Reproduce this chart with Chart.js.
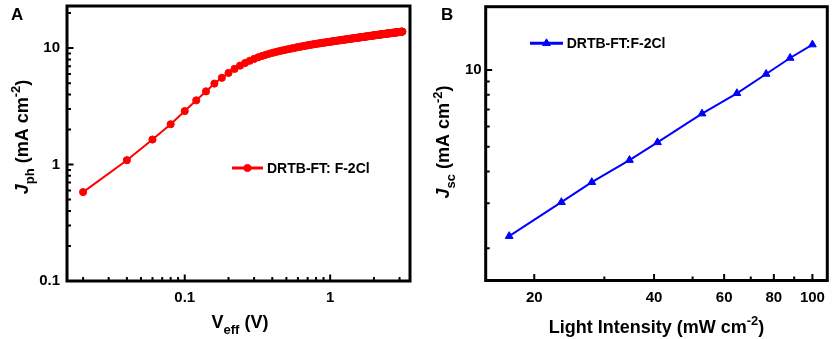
<!DOCTYPE html>
<html lang="en">
<head>
<meta charset="UTF-8">
<title>Jph vs Veff / Jsc vs light intensity</title>
<script src="https://cdn.jsdelivr.net/npm/chart.js"></script>
<style>
  body { margin: 0; background: #fff; }
  #wrap { position: relative; width: 834px; height: 339px; }
  #chartA { position: absolute; left: 0; top: 0; }
  #chartB { position: absolute; left: 420px; top: 0; }
</style>
</head>
<body>
<div id="wrap">
  <canvas id="chartA" width="420" height="339"></canvas>
  <canvas id="chartB" width="414" height="339"></canvas>
</div>
<script>
// ---- panel A data ----
const vEff = [
  0.02,0.04,0.06,0.08,0.10,0.12,0.14,0.16,0.18,0.20,
  0.22,0.24,0.26,0.28,0.30,0.32,0.34,0.36,0.38,0.40,
  0.42,0.44,0.46,0.48,0.50,0.52,0.54,0.56,0.58,0.60,
  0.62,0.64,0.66,0.68,0.70,0.72,0.74,0.76,0.78,0.80,
  0.82,0.84,0.86,0.88,0.90,0.92,0.94,0.96,0.98,1.00,
  1.02,1.04,1.06,1.08,1.10,1.12,1.14,1.16,1.18,1.20,
  1.22,1.24,1.26,1.28,1.30,1.32,1.34,1.36,1.38,1.40,
  1.42,1.44,1.46,1.48,1.50,1.52,1.54,1.56,1.58,1.60,
  1.62,1.64,1.66,1.68,1.70,1.72,1.74,1.76,1.78,1.80,
  1.82,1.84,1.86,1.88,1.90,1.92,1.94,1.96,1.98,2.00,
  2.02,2.04,2.06,2.08,2.10,2.12,2.14,2.16,2.18,2.20,
  2.22,2.24,2.26,2.28,2.30,2.32,2.34,2.36,2.38,2.40,
  2.42,2.44,2.46,2.48,2.50,2.52,2.54,2.56,2.58,2.60,
  2.62,2.64,2.66,2.68,2.70,2.72,2.74,2.76,2.78,2.80,
  2.82,2.84,2.86,2.88,2.90,2.92,2.94,2.96,2.98,3.00,
  3.02,3.04,3.06,3.08,3.10,3.12,3.14
];
const jph = [
  0.58,1.09,1.64,2.22,2.88,3.56,4.25,4.96,5.56,6.12,
  6.63,7.07,7.45,7.79,8.08,8.34,8.56,8.76,8.94,9.10,
  9.24,9.37,9.49,9.61,9.72,9.82,9.92,10.01,10.10,10.19,
  10.27,10.35,10.43,10.50,10.57,10.64,10.70,10.76,10.82,10.88,
  10.93,10.98,11.03,11.08,11.13,11.18,11.22,11.27,11.31,11.35,
  11.39,11.43,11.47,11.51,11.55,11.59,11.63,11.67,11.70,11.74,
  11.77,11.81,11.84,11.88,11.91,11.94,11.97,12.01,12.04,12.07,
  12.10,12.13,12.16,12.19,12.22,12.25,12.28,12.30,12.33,12.36,
  12.39,12.41,12.44,12.46,12.49,12.52,12.54,12.57,12.59,12.62,
  12.64,12.67,12.69,12.72,12.74,12.76,12.79,12.81,12.84,12.86,
  12.88,12.90,12.93,12.95,12.97,12.99,13.01,13.03,13.05,13.07,
  13.09,13.11,13.13,13.15,13.17,13.19,13.21,13.23,13.25,13.27,
  13.29,13.31,13.32,13.34,13.36,13.38,13.40,13.41,13.43,13.45,
  13.47,13.48,13.50,13.51,13.53,13.55,13.56,13.58,13.59,13.61,
  13.63,13.64,13.66,13.67,13.69,13.70,13.72,13.73,13.75,13.76,
  13.77,13.79,13.80,13.82,13.83,13.84,13.86
];
const vEffTicks = [0.02,0.03,0.04,0.05,0.06,0.07,0.08,0.09,0.1,0.2,0.3,0.4,0.5,0.6,0.7,0.8,0.9,1,2,3];
const vEffLabels = [0.1, 1];
const jphTicks = [0.1,0.2,0.3,0.4,0.5,0.6,0.7,0.8,0.9,1,2,3,4,5,6,7,8,9,10,20];
const jphLabels = [0.1, 1, 10];

// ---- panel B data ----
const intensity = [17.3, 23.4, 27.9, 34.7, 40.8, 52.8, 64.6, 76.5, 87.9, 100];
const jsc = [2.23, 3.03, 3.63, 4.43, 5.20, 6.74, 8.10, 9.64, 11.14, 12.57];
const intensityTicks = [20,30,40,50,60,70,80,90,100];
const intensityLabels = [20,40,60,80,100];
const jscTicks = [2,3,4,5,6,7,8,9,10];
const jscLabels = [10];

const FONT = '"Liberation Sans", Arial, sans-serif';

// draws a title made of pieces: [text, kind] kind = '' | 'i' | 'sub' | 'sup'
function richText(ctx, parts, x, y, size, rotate) {
  ctx.save();
  ctx.translate(x, y);
  if (rotate) ctx.rotate(-Math.PI / 2);
  const fontFor = k => (k === 'i' ? 'italic ' : '') + 'bold ' +
    (k === 'sub' || k === 'sup' ? Math.round(size * 0.72) : size) + 'px ' + FONT;
  let total = 0;
  parts.forEach(([t, k]) => { ctx.font = fontFor(k); total += ctx.measureText(t).width; });
  let cx = -total / 2;
  ctx.textAlign = 'left';
  ctx.textBaseline = 'alphabetic';
  ctx.fillStyle = '#000';
  parts.forEach(([t, k]) => {
    ctx.font = fontFor(k);
    const dy = k === 'sub' ? size * 0.32 : k === 'sup' ? -size * 0.42 : 0;
    ctx.fillText(t, cx, dy);
    cx += ctx.measureText(t).width;
  });
  ctx.restore();
}

function decorPlugin(cfg) {
  return {
    id: 'decor',
    afterDraw(chart) {
      const { ctx, chartArea: a, scales } = chart;
      ctx.save();
      ctx.strokeStyle = '#000';
      ctx.lineWidth = 2;
      ctx.beginPath();
      scales.x.ticks.forEach(t => {
        const px = scales.x.getPixelForValue(t.value);
        const len = cfg.xMajor.includes(t.value) ? 6.5 : 4;
        ctx.moveTo(px, a.bottom);
        ctx.lineTo(px, a.bottom - len);
      });
      scales.y.ticks.forEach(t => {
        const py = scales.y.getPixelForValue(t.value);
        const len = cfg.yMajor.includes(t.value) ? 6.5 : 4;
        ctx.moveTo(a.left, py);
        ctx.lineTo(a.left + len, py);
      });
      ctx.stroke();

      ctx.lineWidth = 3;
      ctx.strokeRect(a.left, a.top, a.right - a.left, a.bottom - a.top);

      // legend
      const ds = chart.data.datasets[0];
      const lg = cfg.legend;
      ctx.strokeStyle = ds.borderColor;
      ctx.fillStyle = ds.backgroundColor;
      ctx.lineWidth = 3;
      ctx.beginPath();
      ctx.moveTo(lg.x0, lg.y);
      ctx.lineTo(lg.x1, lg.y);
      ctx.stroke();
      ctx.lineWidth = 1;
      Chart.helpers.drawPoint(ctx, { pointStyle: ds.pointStyle, radius: ds.pointRadius, rotation: 0, borderWidth: 1 },
        (lg.x0 + lg.x1) / 2, lg.y);
      ctx.fillStyle = '#000';
      ctx.font = 'bold 14px ' + FONT;
      ctx.textBaseline = 'middle';
      ctx.textAlign = 'left';
      ctx.fillText(ds.label, lg.tx, lg.y + 1);

      // panel letter
      ctx.font = 'bold 17px ' + FONT;
      ctx.textBaseline = 'alphabetic';
      ctx.fillText(cfg.letter[0], cfg.letter[1], cfg.letter[2]);
      ctx.restore();

      richText(ctx, cfg.xTitle, cfg.xTitlePos[0], cfg.xTitlePos[1], 18, false);
      richText(ctx, cfg.yTitle, cfg.yTitlePos[0], cfg.yTitlePos[1], 18, true);
    }
  };
}

function makeChart(id, p) {
  const tickFont = { family: FONT, size: 15, weight: 'bold' };
  return new Chart(document.getElementById(id), {
    type: 'scatter',
    data: {
      datasets: [{
        label: p.label,
        data: p.xs.map((v, i) => ({ x: v, y: p.ys[i] })),
        showLine: true,
        borderColor: p.color,
        backgroundColor: p.color,
        borderWidth: 2,
        pointStyle: p.pointStyle,
        pointRadius: p.pointRadius,
        pointBorderWidth: 1
      }]
    },
    options: {
      responsive: false,
      animation: false,
      devicePixelRatio: 1,
      layout: { padding: { left: 0, right: p.padRight, top: p.padTop, bottom: 0 } },
      plugins: { legend: { display: false }, tooltip: { enabled: false } },
      scales: {
        x: {
          type: 'logarithmic',
          min: p.xMin, max: p.xMax, bounds: 'data',
          grid: { display: false, drawTicks: false },
          border: { display: false },
          afterBuildTicks: s => { s.ticks = p.xTicks.map(v => ({ value: v })); },
          afterFit: s => {
            s.height = p.xAxisH;
            s.paddingLeft = s.paddingRight = s.paddingTop = s.paddingBottom = 0;
          },
          ticks: {
            autoSkip: false, maxRotation: 0, minRotation: 0, padding: 8,
            color: '#000', font: tickFont,
            callback: v => p.xLabels.includes(v) ? String(v) : ''
          }
        },
        y: {
          type: 'logarithmic',
          min: p.yMin, max: p.yMax, bounds: 'data',
          grid: { display: false, drawTicks: false },
          border: { display: false },
          afterBuildTicks: s => { s.ticks = p.yTicks.map(v => ({ value: v })); },
          afterFit: s => {
            s.width = p.yAxisW;
            s.paddingLeft = s.paddingRight = s.paddingTop = s.paddingBottom = 0;
          },
          ticks: {
            autoSkip: false, padding: p.yPad,
            color: '#000', font: tickFont,
            callback: v => p.yLabels.includes(v) ? String(v) : ''
          }
        }
      }
    },
    plugins: [decorPlugin({
      xMajor: p.xLabels, yMajor: p.yLabels,
      legend: p.legend, letter: p.letter,
      xTitle: p.xTitle, xTitlePos: p.xTitlePos,
      yTitle: p.yTitle, yTitlePos: p.yTitlePos
    })]
  });
}

makeChart('chartA', {
  label: 'DRTB-FT: F-2Cl', color: '#ff0000', pointStyle: 'circle', pointRadius: 3.6,
  xs: vEff, ys: jph,
  xMin: 0.0155, xMax: 3.54, yMin: 0.1, yMax: 23,
  xTicks: vEffTicks, xLabels: vEffLabels, yTicks: jphTicks, yLabels: jphLabels,
  padRight: 10, padTop: 6, xAxisH: 58, yAxisW: 67, yPad: 7,
  legend: { x0: 232, x1: 263, y: 168, tx: 267 },
  letter: ['A', 11, 20],
  xTitle: [['V', ''], ['eff', 'sub'], [' (V)', '']], xTitlePos: [240, 328],
  yTitle: [['J', 'i'], ['ph', 'sub'], [' (mA cm', ''], ['-2', 'sup'], [')', '']], yTitlePos: [28, 137]
});

makeChart('chartB', {
  label: 'DRTB-FT:F-2Cl', color: '#0000ff', pointStyle: 'triangle', pointRadius: 4.5,
  xs: intensity, ys: jsc,
  xMin: 15.1, xMax: 109, yMin: 1.494, yMax: 17.7,
  xTicks: intensityTicks, xLabels: intensityLabels, yTicks: jscTicks, yLabels: jscLabels,
  padRight: 6.7, padTop: 6.7, xAxisH: 58.5, yAxisW: 65.7, yPad: 4,
  legend: { x0: 110, x1: 143, y: 43.3, tx: 146.7 },
  letter: ['B', 21, 20],
  xTitle: [['Light Intensity (mW cm', ''], ['-2', 'sup'], [')', '']], xTitlePos: [236.5, 333],
  yTitle: [['J', 'i'], ['sc', 'sub'], [' (mA cm', ''], ['-2', 'sup'], [')', '']], yTitlePos: [29.3, 142]
});
</script>
</body>
</html>
